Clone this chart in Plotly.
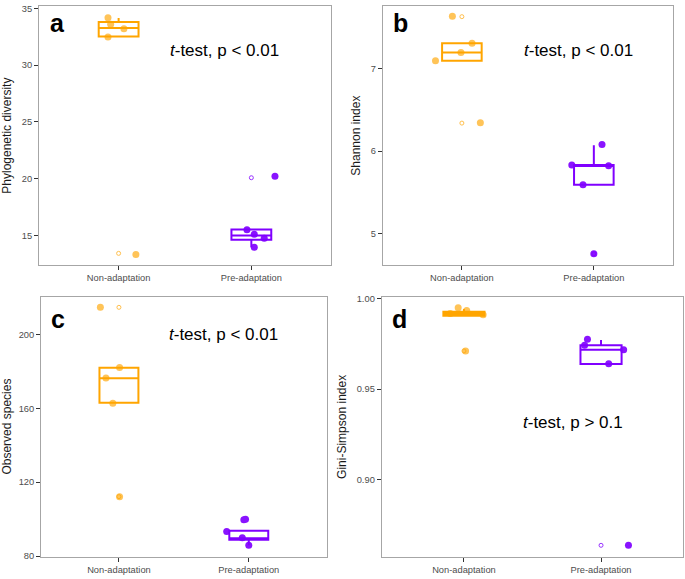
import plotly.graph_objects as go

# groups
groups = ['Non-adaptation', 'Pre-adaptation']
orange = '#FFA500'
purple = '#8000FF'

# --- panel a: phylogenetic diversity ---
a_non = [34.16, 33.6, 33.2, 32.47, 13.36]
a_non_jit = [-0.08, -0.06, 0.04, -0.08, 0.13]
a_pre = [15.52, 15.14, 14.77, 13.99, 20.24]
a_pre_jit = [-0.033, 0.022, 0.097, 0.022, 0.178]
a_out_non = [13.45]
a_out_pre = [20.1]
a_box = {'q1': [32.52, 14.65], 'median': [33.27, 15.03], 'q3': [33.79, 15.54],
         'lf': [32.52, 13.99], 'uf': [34.14, 15.54]}

# --- panel b: Shannon index ---
b_non = [7.64, 7.31, 7.20, 7.10, 6.345]
b_non_jit = [-0.072, 0.077, -0.007, -0.2, 0.14]
b_pre = [5.83, 5.82, 5.59, 6.08, 4.75]
b_pre_jit = [-0.167, 0.112, -0.082, 0.062, 0.0]
b_out_non = [7.635, 6.34]
b_out_pre = [4.75]
b_box = {'q1': [7.10, 5.59], 'median': [7.20, 5.82], 'q3': [7.31, 5.83],
         'lf': [7.10, 5.59], 'uf': [7.31, 6.07]}

# --- panel c: observed species ---
c_non = [214.6, 182.0, 176.4, 162.7, 112.2]
c_non_jit = [-0.143, 0.005, -0.1, -0.047, 0.005]
c_pre = [99.7, 100.0, 93.3, 90.0, 85.9]
c_pre_jit = [-0.038, -0.025, -0.17, -0.05, 0.0]
c_out_non = [214.6, 112.2]
c_out_pre = []
c_box = {'q1': [163.0, 88.9], 'median': [176.2, 89.7], 'q3': [181.9, 93.8],
         'lf': [163.0, 85.9], 'uf': [181.9, 93.8]}

# --- panel d: Gini-Simpson index ---
d_non = [0.9949, 0.9935, 0.9911, 0.9711, 0.9918]
d_non_jit = [-0.042, 0.02, 0.14, 0.012, -0.1]
d_pre = [0.9775, 0.9742, 0.9717, 0.9640, 0.8637]
d_pre_jit = [-0.099, -0.12, 0.165, 0.056, 0.2]
d_out_non = [0.9711]
d_out_pre = [0.8637]
d_box = {'q1': [0.9906, 0.9639], 'median': [0.9917, 0.9717], 'q3': [0.9928, 0.9742],
         'lf': [0.9906, 0.9639], 'uf': [0.9942, 0.9771]}

panels = [
    dict(letter='a', ytitle='Phylogenetic diversity', box=a_box,
         non=a_non, non_jit=a_non_jit, pre=a_pre, pre_jit=a_pre_jit,
         out_non=a_out_non, out_pre=a_out_pre,
         yrange=[12.4, 35.2], tickvals=[15, 20, 25, 30, 35], fmt='',
         xdom=[0.0569, 0.4832], ydom=[0.5406, 0.9948],
         ttext='<i>t</i>-test, p < 0.01', tpos=(0.634, 0.829), lpos=(0.065, 0.935)),
    dict(letter='b', ytitle='Shannon index', box=b_box,
         non=b_non, non_jit=b_non_jit, pre=b_pre, pre_jit=b_pre_jit,
         out_non=b_out_non, out_pre=b_out_pre,
         yrange=[4.61, 7.765], tickvals=[5, 6, 7], fmt='',
         xdom=[0.5587, 0.9825], ydom=[0.5406, 0.9948],
         ttext='<i>t</i>-test, p < 0.01', tpos=(0.673, 0.83), lpos=(0.06, 0.935)),
    dict(letter='c', ytitle='Observed species', box=c_box,
         non=c_non, non_jit=c_non_jit, pre=c_pre, pre_jit=c_pre_jit,
         out_non=c_out_non, out_pre=c_out_pre,
         yrange=[79.8, 220.4], tickvals=[80, 120, 160, 200], fmt='',
         xdom=[0.0599, 0.4769], ydom=[0.0306, 0.4858],
         ttext='<i>t</i>-test, p < 0.01', tpos=(0.64, 0.855), lpos=(0.06, 0.913)),
    dict(letter='d', ytitle='Gini-Simpson index', box=d_box,
         non=d_non, non_jit=d_non_jit, pre=d_pre, pre_jit=d_pre_jit,
         out_non=d_out_non, out_pre=d_out_pre,
         yrange=[0.8575, 1.0008], tickvals=[0.90, 0.95, 1.00], fmt='.2f',
         xdom=[0.5572, 0.9975], ydom=[0.0306, 0.4848],
         ttext='<i>t</i>-test, p > 0.1', tpos=(0.635, 0.518), lpos=(0.06, 0.917)),
]

fig = go.Figure()
layout_axes = {}
annotations = []

for i, p in enumerate(panels):
    n = '' if i == 0 else str(i + 1)
    xa, ya = 'x' + n, 'y' + n
    cols = [orange, purple]
    # boxes
    for g in range(2):
        fig.add_trace(go.Box(
            x=[g + 1], q1=[p['box']['q1'][g]], median=[p['box']['median'][g]],
            q3=[p['box']['q3'][g]], lowerfence=[p['box']['lf'][g]],
            upperfence=[p['box']['uf'][g]],
            width=0.3, whiskerwidth=0, boxpoints=False,
            fillcolor='rgba(0,0,0,0)', line=dict(color=cols[g], width=2),
            xaxis=xa, yaxis=ya, showlegend=False, hoverinfo='skip'
        ))
    # outliers (hollow, at box centre)
    for g, outs in enumerate([p['out_non'], p['out_pre']]):
        if outs:
            fig.add_trace(go.Scatter(
                x=[g + 1] * len(outs), y=outs, mode='markers',
                marker=dict(symbol='circle-open', size=4, color=cols[g], line=dict(width=1)),
                opacity=0.7 if g == 0 else 0.8,
                xaxis=xa, yaxis=ya, showlegend=False, hoverinfo='skip'
            ))
    # jittered points
    for g, (vals, jit) in enumerate([(p['non'], p['non_jit']), (p['pre'], p['pre_jit'])]):
        fig.add_trace(go.Scatter(
            x=[g + 1 + j for j in jit], y=vals, mode='markers',
            marker=dict(size=7, color=cols[g], line=dict(width=0)),
            opacity=0.65 if g == 0 else 0.92,
            xaxis=xa, yaxis=ya, showlegend=False, hoverinfo='skip'
        ))

    xkey = 'xaxis' + n
    ykey = 'yaxis' + n
    layout_axes[xkey] = dict(
        domain=p['xdom'], anchor=ya, range=[0.4, 2.6],
        tickvals=[1, 2], ticktext=groups, ticks='outside', ticklen=4,
        tickcolor='#333333', tickfont=dict(size=9.3, color='#4D4D4D'),
        showline=True, mirror=True, linecolor='#A6A6A6', linewidth=1,
        showgrid=False, zeroline=False
    )
    layout_axes[ykey] = dict(
        domain=p['ydom'], anchor=xa, range=p['yrange'],
        tickvals=p['tickvals'], tickformat=p['fmt'], ticks='outside', ticklen=4,
        tickcolor='#333333', tickfont=dict(size=9.3, color='#4D4D4D'),
        title=dict(text=p['ytitle'], font=dict(size=12, color='#1A1A1A'), standoff=7),
        showline=True, mirror=True, linecolor='#A6A6A6', linewidth=1,
        showgrid=False, zeroline=False
    )
    annotations.append(dict(
        text='<b>' + p['letter'] + '</b>', xref=xa + ' domain', yref=ya + ' domain',
        x=p['lpos'][0], y=p['lpos'][1], xanchor='center', yanchor='middle',
        showarrow=False, font=dict(size=25, color='black')
    ))
    annotations.append(dict(
        text=p['ttext'], xref=xa + ' domain', yref=ya + ' domain',
        x=p['tpos'][0], y=p['tpos'][1], xanchor='center', yanchor='middle',
        showarrow=False, font=dict(size=17, color='black')
    ))

fig.update_layout(
    width=685, height=579,
    margin=dict(l=0, r=0, t=0, b=0),
    paper_bgcolor='white', plot_bgcolor='white',
    font=dict(family='Liberation Sans, Arial, sans-serif'),
    annotations=annotations,
    **layout_axes
)

# page body has a default 8px margin; drop it so the figure sits at the window corner
fig.write_html("out.html", config={'displayModeBar': False},
               post_script="document.body.style.margin='0px';")
